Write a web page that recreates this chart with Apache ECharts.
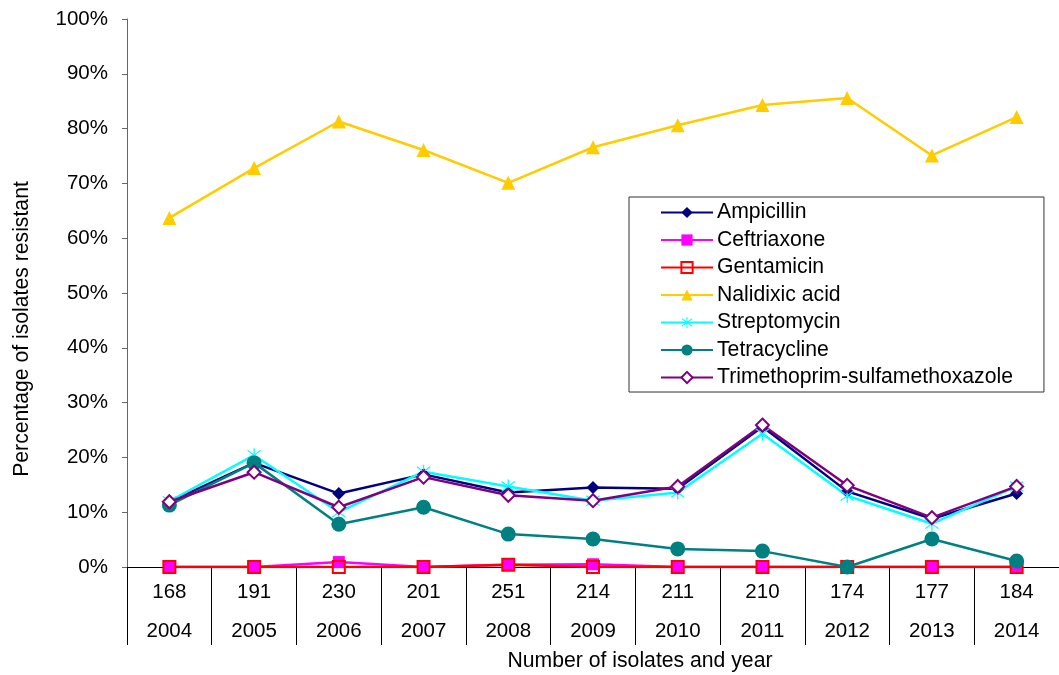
<!DOCTYPE html>
<html>
<head>
<meta charset="utf-8">
<script src="https://cdn.jsdelivr.net/npm/echarts@6/dist/echarts.min.js"></script>
<style>
html,body{margin:0;padding:0;background:#fff;}
#chart{width:1059px;height:675px;}
</style>
</head>
<body>
<div id="chart"></div>
<script>
const isolates = ['168','191','230','201','251','214','211','210','174','177','184'];
const years = ['2004','2005','2006','2007','2008','2009','2010','2011','2012','2013','2014'];
const yTicks = [0,10,20,30,40,50,60,70,80,90,100];

const ampicillin   = [11.9, 19.0, 13.4, 16.9, 13.6, 14.5, 14.3, 25.6, 13.8, 8.8, 13.4];
const ceftriaxone  = [0, 0, 0.9, 0, 0.4, 0.5, 0, 0, 0, 0, 0];
const gentamicin   = [0, 0, 0, 0, 0.4, 0, 0, 0, 0, 0, 0];
const nalidixic    = [63.7, 72.8, 81.3, 76.1, 70.1, 76.6, 80.6, 84.3, 85.6, 75.1, 82.1];
const streptomycin = [12.0, 20.4, 10.0, 17.4, 14.7, 12.1, 13.6, 24.3, 13.0, 7.9, 14.7];
const tetracycline = [11.3, 19.0, 7.8, 10.9, 6.0, 5.1, 3.3, 2.9, 0, 5.1, 1.1];
const tmpSmx       = [11.9, 17.3, 10.9, 16.4, 13.1, 12.1, 14.7, 25.9, 14.9, 9.0, 14.7];

const FONT = 'Liberation Sans, Arial, sans-serif';
const FS = 20.5;
const FS2 = 21.2;

const asterisk = 'path://M9.2,0 L10.8,0 L10.8,20 L9.2,20 Z M2.53,2.4 L18.53,16.4 L17.47,17.6 L1.47,3.6 Z M18.53,3.6 L2.53,17.6 L1.47,16.4 L17.47,2.4 Z';

function mk(name, data, color, symbol, size, fill, border) {
  return {
    name: name, type: 'line', data: data,
    symbol: symbol, symbolSize: size,
    lineStyle: {color: color, width: 2.5},
    itemStyle: {color: fill, borderColor: border || fill, borderWidth: border ? 2 : 0},
    emphasis: {disabled: true},
    animation: false
  };
}

const chart = echarts.init(document.getElementById('chart'), null, {renderer: 'canvas'});
chart.setOption({
  backgroundColor: '#fff',
  animation: false,
  title: {
    text: 'Number of isolates and year',
    left: 640, top: 651, textAlign: 'center',
    textStyle: {fontFamily: FONT, fontSize: FS2, fontWeight: 'normal', color: '#000'},
    padding: 0
  },
  graphic: [{
    type: 'text', x: 22, y: 329, rotation: Math.PI / 2,
    style: {text: 'Percentage of isolates resistant', align: 'center', verticalAlign: 'middle',
      fontFamily: FONT, fontSize: FS2, fill: '#000'}
  }],
  grid: {left: 127, top: 19, width: 941, height: 548, containLabel: false},
  legend: {
    orient: 'vertical', left: 629, top: 197,
    padding: [5, 31, 4, 31],
    itemWidth: 52, itemHeight: 14, itemGap: 6.5,
    borderColor: '#333', borderWidth: 1, backgroundColor: '#fff',
    textStyle: {fontFamily: FONT, fontSize: FS2, color: '#000', lineHeight: 20, padding: [0,0,0,-1]},
    data: ['Ampicillin','Ceftriaxone','Gentamicin','Nalidixic acid','Streptomycin','Tetracycline','Trimethoprim-sulfamethoxazole']
  },
  xAxis: {
    type: 'category',
    data: isolates,
    boundaryGap: true,
    axisLine: {lineStyle: {color: '#000', width: 1}},
    axisTick: {show: true, length: 78, lineStyle: {color: '#000', width: 1}},
    axisLabel: {
      margin: 6, fontFamily: FONT, fontSize: FS, color: '#000', lineHeight: 39,
      interval: 0,
      formatter: function (v, i) { return v + '\n' + years[i]; }
    }
  },
  yAxis: {
    type: 'value', min: yTicks[0], max: yTicks[yTicks.length - 1], interval: 10,
    axisLine: {show: true, lineStyle: {color: '#666', width: 1}},
    axisTick: {show: true, length: 5, lineStyle: {color: '#666'}},
    splitLine: {show: false},
    axisLabel: {margin: 19, fontFamily: FONT, fontSize: FS, color: '#000', formatter: '{value}%'}
  },
  series: [
    mk('Ampicillin', ampicillin, '#000080', 'diamond', 13, '#000080'),
    mk('Ceftriaxone', ceftriaxone, '#FF00FF', 'rect', 12, '#FF00FF'),
    mk('Gentamicin', gentamicin, '#FF0000', 'rect', 12, 'rgba(0,0,0,0)', '#FF0000'),
    mk('Nalidixic acid', nalidixic, '#FFCC00', 'triangle', 14, '#FFCC00'),
    mk('Streptomycin', streptomycin, '#00FFFF', asterisk, 14, '#00FFFF'),
    mk('Tetracycline', tetracycline, '#008080', 'circle', 15, '#008080'),
    mk('Trimethoprim-sulfamethoxazole', tmpSmx, '#800080', 'diamond', 13, '#FFFFFF', '#800080')
  ]
});
</script>
</body>
</html>
